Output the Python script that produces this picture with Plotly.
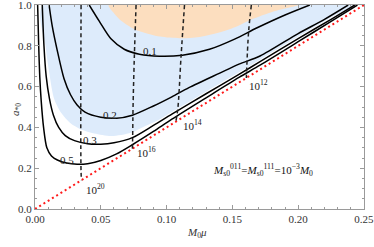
import plotly.graph_objects as go

# ---- data ----
# solid contour curves (x = M0*mu, y = a_*0)
c01_x = [0.0412, 0.0488, 0.0579, 0.0678, 0.0793, 0.0945, 0.112, 0.1326, 0.1517, 0.1684, 0.190, 0.2088]
c01_y = [1.0, 0.921, 0.833, 0.783, 0.759, 0.749, 0.754, 0.783, 0.833, 0.887, 0.951, 1.0]

c02_x = [0.0107, 0.013, 0.0168, 0.022, 0.027, 0.032, 0.038, 0.05, 0.062, 0.074, 0.09, 0.104, 0.117, 0.14, 0.155, 0.171, 0.2, 0.22, 0.238]
c02_y = [1.0, 0.9, 0.78, 0.64, 0.56, 0.51, 0.475, 0.45, 0.445, 0.46, 0.505, 0.55, 0.595, 0.665, 0.71, 0.75, 0.86, 0.93, 1.0]

c03_x = [0.0055, 0.0068, 0.0085, 0.011, 0.014, 0.018, 0.023, 0.03, 0.04, 0.05, 0.06, 0.074, 0.09, 0.104, 0.13, 0.155, 0.171, 0.2, 0.225, 0.243]
c03_y = [1.0, 0.8, 0.65, 0.54, 0.46, 0.4, 0.36, 0.335, 0.32, 0.318, 0.325, 0.35, 0.41, 0.465, 0.565, 0.66, 0.722, 0.835, 0.93, 1.0]

c05_x = [0.002, 0.0028, 0.0036, 0.0047, 0.0065, 0.009, 0.0125, 0.017, 0.024, 0.032, 0.04, 0.05, 0.062, 0.074, 0.09, 0.104, 0.13, 0.155, 0.171, 0.2, 0.225, 0.245]
c05_y = [1.0, 0.8, 0.65, 0.53, 0.4, 0.3, 0.26, 0.24, 0.225, 0.219, 0.222, 0.238, 0.27, 0.315, 0.38, 0.44, 0.545, 0.645, 0.705, 0.82, 0.92, 1.0]

contour_labels = ["0.1", "0.2", "0.3", "0.5"]
contour_label_x = [0.0877, 0.057, 0.042, 0.0244]
contour_label_y = [0.775, 0.463, 0.34, 0.241]

# dashed curves
d20_x = [0.0350, 0.0348, 0.0348, 0.0350, 0.0353]
d20_y = [1.0, 0.6, 0.3, 0.18, 0.141]
d16_x = [0.0768, 0.0755, 0.0745, 0.0742, 0.074]
d16_y = [1.0, 0.75, 0.5, 0.35, 0.296]
d14_x = [0.1136, 0.111, 0.1085, 0.107]
d14_y = [1.0, 0.75, 0.49, 0.428]
d12_x = [0.1644, 0.1623, 0.1606]
d12_y = [1.0, 0.867, 0.6425]

dash_labels = ["10<sup>20</sup>", "10<sup>16</sup>", "10<sup>14</sup>", "10<sup>12</sup>"]
dash_label_x = [0.046, 0.0846, 0.1197, 0.170]
dash_label_y = [0.10, 0.28, 0.414, 0.61]

# red dotted bound a = 4 M0 mu
red_x = [0.0, 0.25]
red_y = [0.0, 1.0]

# shaded regions
blue_x = [0.006, 0.008, 0.011, 0.0145, 0.02, 0.027, 0.035, 0.045, 0.058, 0.073, 0.083, 0.095, 0.104, 0.13, 0.155, 0.171, 0.2, 0.225, 0.241, 0.006]
blue_y = [1.0, 0.8, 0.66, 0.54, 0.47, 0.42, 0.39, 0.37, 0.358, 0.374, 0.404, 0.44, 0.475, 0.575, 0.67, 0.732, 0.845, 0.94, 1.0, 1.0]

orange_x = [0.056, 0.06, 0.066, 0.073, 0.08, 0.095, 0.11, 0.125, 0.1425, 0.155, 0.163, 0.171, 0.185, 0.2, 0.056]
orange_y = [1.0, 0.96, 0.92, 0.89, 0.87, 0.845, 0.837, 0.843, 0.87, 0.9, 0.925, 0.945, 0.975, 1.0, 1.0]

x_ticks = [0.0, 0.05, 0.10, 0.15, 0.20, 0.25]
y_ticks = [0.0, 0.2, 0.4, 0.6, 0.8, 1.0]

SERIF = "Liberation Serif"
fig = go.Figure()

fig.add_trace(go.Scatter(x=blue_x, y=blue_y, fill="toself", fillcolor="#DDEBFB",
                         mode="lines", line=dict(width=0, shape="spline", smoothing=0.8),
                         hoverinfo="skip"))
fig.add_trace(go.Scatter(x=orange_x, y=orange_y, fill="toself", fillcolor="#FCDEBF",
                         mode="lines", line=dict(width=0, shape="spline", smoothing=0.8),
                         hoverinfo="skip"))

fig.add_trace(go.Scatter(x=red_x, y=red_y, mode="lines",
                         line=dict(color="#FF1A1A", width=2, dash="2px,3px")))

for xs, ys in [(c01_x, c01_y), (c02_x, c02_y), (c03_x, c03_y), (c05_x, c05_y)]:
    fig.add_trace(go.Scatter(x=xs, y=ys, mode="lines",
                             line=dict(color="black", width=1.5, shape="spline", smoothing=0.8)))

for xs, ys in [(d20_x, d20_y), (d16_x, d16_y), (d14_x, d14_y), (d12_x, d12_y)]:
    fig.add_trace(go.Scatter(x=xs, y=ys, mode="lines",
                             line=dict(color="#222222", width=1.5, dash="4px,3px", shape="spline")))

for t, x, y in zip(contour_labels, contour_label_x, contour_label_y):
    fig.add_annotation(x=x, y=y, text=t, showarrow=False,
                       font=dict(family=SERIF, size=11, color="#222"))
for t, x, y in zip(dash_labels, dash_label_x, dash_label_y):
    fig.add_annotation(x=x, y=y, text=t, showarrow=False,
                       font=dict(family=SERIF, size=11, color="#222"))

fig.add_annotation(x=0.173, y=0.19, showarrow=False,
                   text="<i>M</i><sub>s0</sub><sup>011</sup>=<i>M</i><sub>s0</sub><sup>111</sup>=10<sup>−3</sup><i>M</i><sub>0</sub>",
                   font=dict(family=SERIF, size=11, color="#111"))

# axis titles as paper annotations
fig.add_annotation(xref="paper", yref="paper", x=0.492, y=-0.162, showarrow=False,
                   text="<i>M</i><sub>0</sub><i>μ</i>", font=dict(family=SERIF, size=11, color="#333"))
fig.add_annotation(xref="paper", yref="paper", x=-0.085, y=0.485, showarrow=False, textangle=-90,
                   text="<i>a</i><sub>*0</sub>", font=dict(family=SERIF, size=11, color="#333"))

axis_common = dict(showgrid=False, zeroline=False, showline=True, linecolor="#9a9a9a",
                   linewidth=1, mirror="allticks", ticks="inside", ticklen=4, automargin=False,
                   ticklabeloverflow="allow",
                   tickcolor="#9a9a9a", tickfont=dict(family=SERIF, size=11, color="#333"))

fig.update_xaxes(range=[-0.00001, 0.25001], tickvals=x_ticks, tickformat=".2f",
                 minor=dict(dtick=0.01, ticks="inside", ticklen=2, tickcolor="#9a9a9a"),
                 **axis_common)
fig.update_yaxes(range=[-0.00001, 1.00001], tickvals=y_ticks, tickformat=".1f",
                 minor=dict(dtick=0.05, ticks="inside", ticklen=2, tickcolor="#9a9a9a"),
                 **axis_common)

fig.update_layout(width=374, height=247, margin=dict(l=35, r=10, t=5, b=38),
                  plot_bgcolor="white", paper_bgcolor="white", showlegend=False)

fig.write_html("out.html", config={"displayModeBar": False},
               post_script="document.body.style.margin='0';document.body.style.overflow='hidden';")
